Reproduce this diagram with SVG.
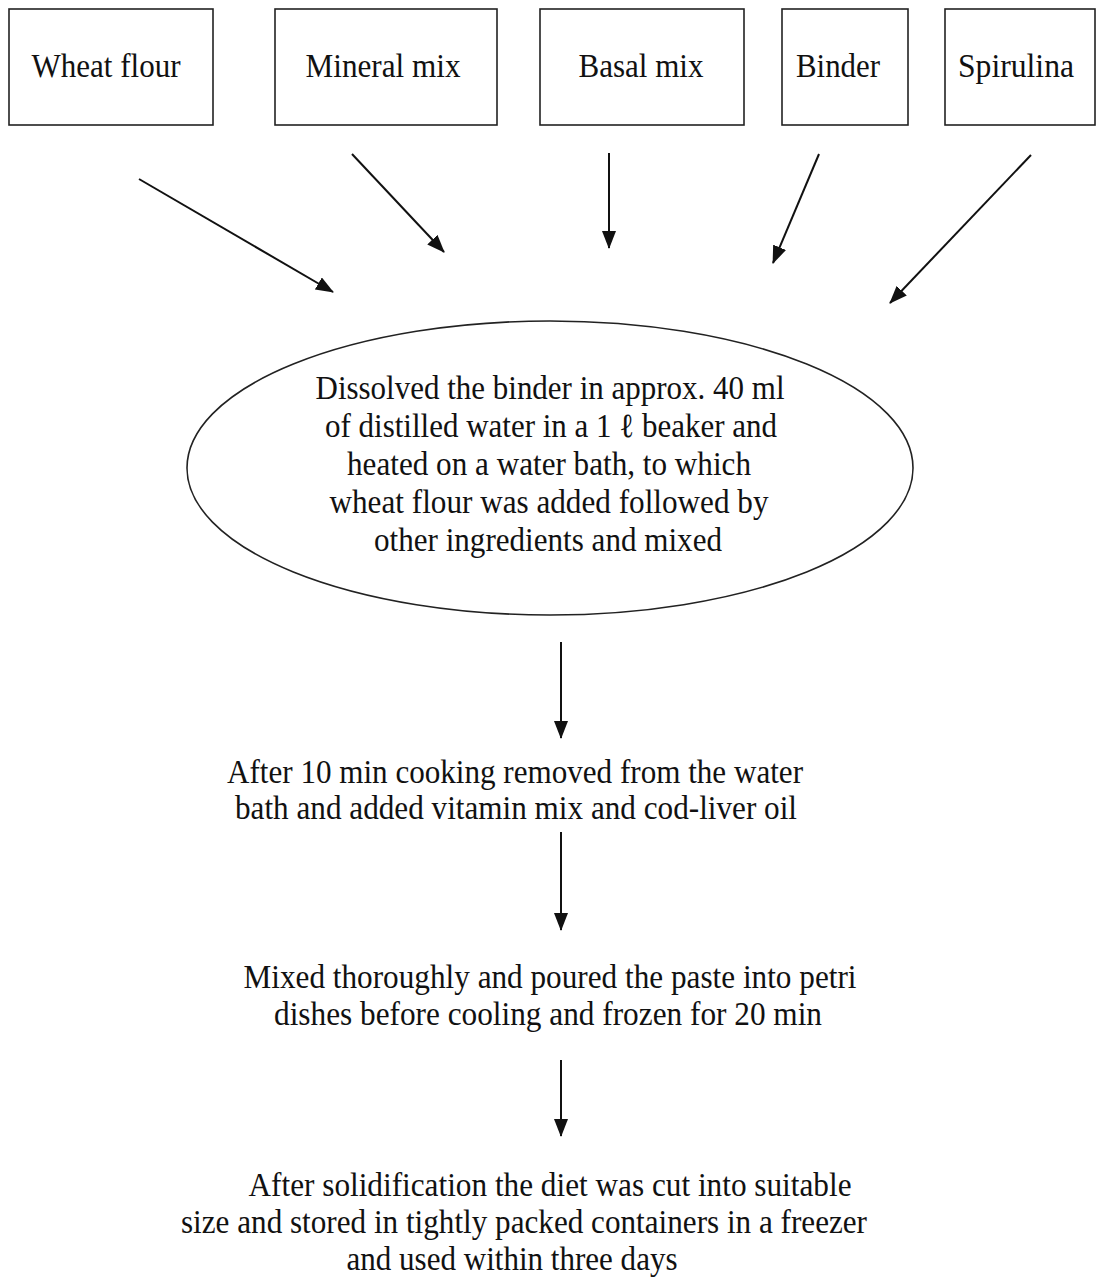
<svg xmlns="http://www.w3.org/2000/svg" width="1104" height="1278" viewBox="0 0 1104 1278">
<style>
.box{fill:#fff;stroke:#222;stroke-width:1.6}
.t{font-family:"Liberation Serif","Times New Roman",serif;font-size:34px;fill:#111;text-anchor:middle}
.c{stroke:#111;stroke-width:2;fill:none;marker-end:url(#ah)}
</style>
<defs>
<marker id="ah" markerUnits="userSpaceOnUse" markerWidth="18" markerHeight="14" refX="17" refY="7" orient="auto" viewBox="0 0 18 14">
<path d="M0,0 L18,7 L0,14 Z" fill="#111"/>
</marker>
</defs>
<rect width="1104" height="1278" fill="#fff"/>
<g id="wheat-flour"><rect class="box" x="9" y="9" width="204" height="116"/><text class="t" x="106" y="77" textLength="149" lengthAdjust="spacingAndGlyphs">Wheat flour</text></g>
<g id="mineral-mix"><rect class="box" x="275" y="9" width="222" height="116"/><text class="t" x="383" y="77" textLength="155" lengthAdjust="spacingAndGlyphs">Mineral mix</text></g>
<g id="basal-mix"><rect class="box" x="540" y="9" width="204" height="116"/><text class="t" x="641" y="77" textLength="125" lengthAdjust="spacingAndGlyphs">Basal mix</text></g>
<g id="binder"><rect class="box" x="782" y="9" width="126" height="116"/><text class="t" x="838" y="77" textLength="84" lengthAdjust="spacingAndGlyphs">Binder</text></g>
<g id="spirulina"><rect class="box" x="945" y="9" width="150" height="116"/><text class="t" x="1016" y="77" textLength="116" lengthAdjust="spacingAndGlyphs">Spirulina</text></g>
<g id="dissolve">
<ellipse class="box" cx="550" cy="468" rx="363" ry="147"/>
<text class="t" x="550" y="399" textLength="469" lengthAdjust="spacingAndGlyphs">Dissolved the binder in approx. 40 ml</text>
<text class="t" x="551" y="437" textLength="452" lengthAdjust="spacingAndGlyphs">of distilled water in a 1 ℓ beaker and</text>
<text class="t" x="549" y="475" textLength="404" lengthAdjust="spacingAndGlyphs">heated on a water bath, to which</text>
<text class="t" x="549" y="513" textLength="439" lengthAdjust="spacingAndGlyphs">wheat flour was added followed by</text>
<text class="t" x="548" y="551" textLength="348" lengthAdjust="spacingAndGlyphs">other ingredients and mixed</text>
</g>
<g id="cooking">
<text class="t" x="515" y="783" textLength="576" lengthAdjust="spacingAndGlyphs">After 10 min cooking removed from the water</text>
<text class="t" x="516" y="819" textLength="562" lengthAdjust="spacingAndGlyphs">bath and added vitamin mix and cod-liver oil</text>
</g>
<g id="pour">
<text class="t" x="550" y="988" textLength="613" lengthAdjust="spacingAndGlyphs">Mixed thoroughly and poured the paste into petri</text>
<text class="t" x="548" y="1025" textLength="548" lengthAdjust="spacingAndGlyphs">dishes before cooling and frozen for 20 min</text>
</g>
<g id="store">
<text class="t" x="550" y="1196" textLength="603" lengthAdjust="spacingAndGlyphs">After solidification the diet was cut into suitable</text>
<text class="t" x="524" y="1233" textLength="686" lengthAdjust="spacingAndGlyphs">size and stored in tightly packed containers in a freezer</text>
<text class="t" x="512" y="1270" textLength="331" lengthAdjust="spacingAndGlyphs">and used within three days</text>
</g>
<g id="connectors">
<line class="c" x1="139" y1="179" x2="333" y2="292"/>
<line class="c" x1="352" y1="154" x2="444" y2="252"/>
<line class="c" x1="609" y1="153" x2="609" y2="248"/>
<line class="c" x1="819" y1="154" x2="773" y2="263"/>
<line class="c" x1="1031" y1="155" x2="890" y2="303"/>
<line class="c" x1="561" y1="642" x2="561" y2="738"/>
<line class="c" x1="561" y1="832" x2="561" y2="930"/>
<line class="c" x1="561" y1="1060" x2="561" y2="1136"/>
</g>
</svg>
